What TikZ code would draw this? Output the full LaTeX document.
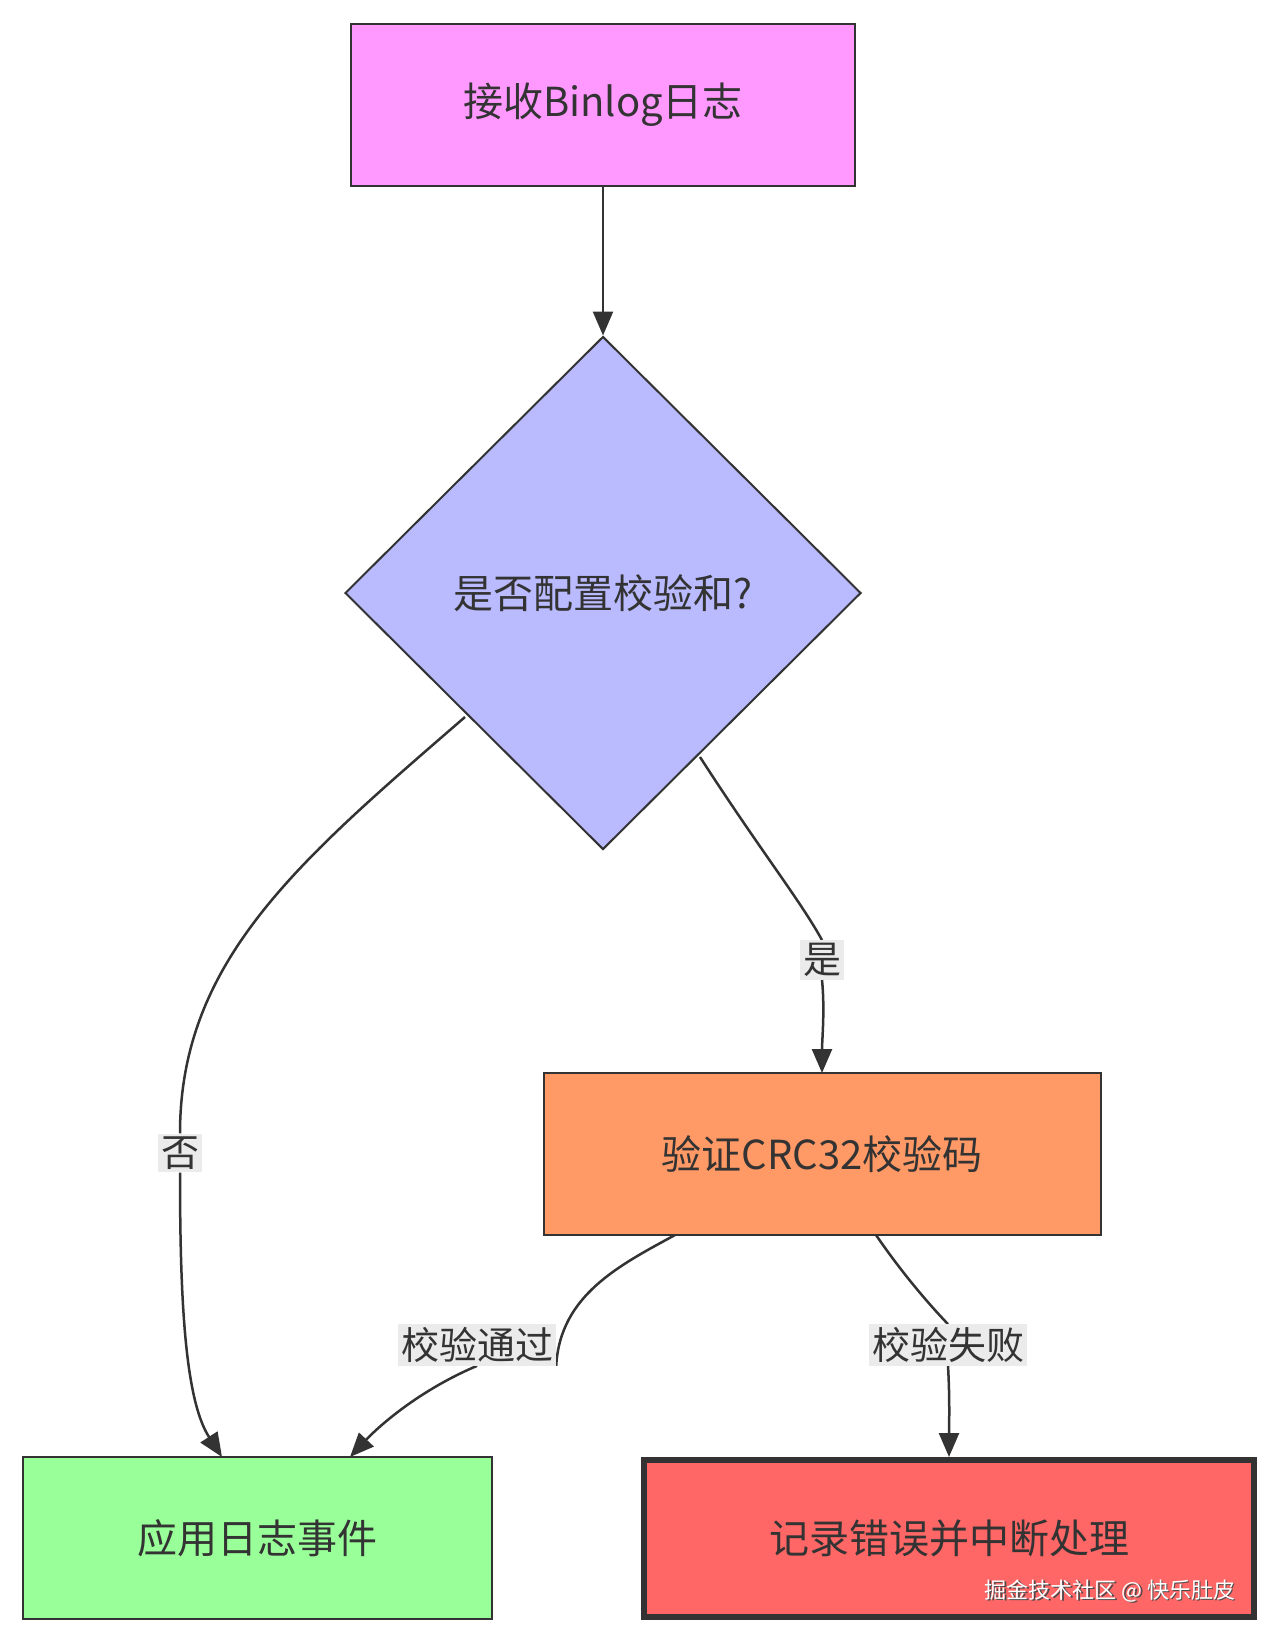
\documentclass[tikz,border=0pt]{standalone}
\usepackage{fontspec}
\setmainfont{Noto Sans CJK SC}
\usetikzlibrary{arrows.meta,shapes.geometric}
\begin{document}
\begin{tikzpicture}[x=1pt,y=-1pt,
 box/.style={draw=black!80,line width=2pt,minimum height=162pt,inner sep=0pt,font=\fontsize{40}{48}\selectfont,text=black!80},
 lab/.style={fill=black!8,inner sep=3pt,font=\fontsize{38}{44}\selectfont,text=black!80},
 e/.style={draw=black!80,line width=2.5pt,-{Triangle[length=24pt,width=20pt]}}]
\useasboundingbox (0,0) rectangle (1278,1643);
\fill[white] (0,0) rectangle (1278,1643);
\node[box,fill={rgb,255:red,255;green,153;blue,255},minimum width=504pt] (a) at (603,105) {接收Binlog日志};
\node[draw=black!80,line width=2pt,fill={rgb,255:red,186;green,186;blue,255},diamond,minimum width=516pt,minimum height=513pt,inner sep=0pt,font=\fontsize{40}{48}\selectfont,text=black!80] (d) at (603,593) {是否配置校验和?};
\node[box,fill={rgb,255:red,255;green,153;blue,102},minimum width=557pt] (v) at (822,1154) {验证CRC32校验码};
\node[box,fill={rgb,255:red,153;green,255;blue,153},minimum width=469pt] (p) at (257,1538) {应用日志事件};
\node[box,fill={rgb,255:red,255;green,102;blue,102},minimum width=610pt,minimum height=157pt,line width=6pt] (f) at (949,1538) {记录错误并中断处理};
\coordinate (d1) at (465,717); \coordinate (d2) at (700,757);
\coordinate (v1) at (675,1235); \coordinate (v2) at (876,1235);
\draw[e] (a) -- (d.north);
\node[lab] (no) at (180,1153) {否};
\node[lab] (yes) at (822,960) {是};
\node[lab] (ok) at (477,1345) {校验通过};
\node[lab] (bad) at (948,1345) {校验失败};
\begin{scope}[on background layer/.try]
\end{scope}
\draw[draw=black!80,line width=2.5pt] (d1) .. controls (300,860) and (180,960) .. (no.north);
\draw[e] (no.south) .. controls (180,1300) and (185,1400) .. (222,1457);
\draw[draw=black!80,line width=2.5pt] (d2) .. controls (760,850) and (800,900) .. (yes.north);
\draw[e] (yes.south) .. controls (825,1010) and (822,1040) .. (822,1073);
\draw[draw=black!80,line width=2.5pt] (v1) .. controls (620,1265) and (560,1295) .. (ok.south east);
\draw[e] (ok.south) .. controls (420,1390) and (380,1425) .. (350,1457);
\draw[draw=black!80,line width=2.5pt] (v2) .. controls (900,1270) and (925,1300) .. (bad.north);
\draw[e] (bad.south) .. controls (950,1400) and (949,1430) .. (949,1457);
\node[lab] at (180,1153) {否};
\node[lab] at (822,960) {是};
\node[lab] at (477,1345) {校验通过};
\node[lab] at (948,1345) {校验失败};
\node[font=\fontsize{22}{26}\selectfont,text=black!70,anchor=east] at (1240.5,1592.5) {掘金技术社区 @ 快乐肚皮};
\node[font=\fontsize{22}{26}\selectfont,text=white,anchor=east] (w) at (1239,1591) {掘金技术社区 @ 快乐肚皮};
\end{tikzpicture}
\end{document}
